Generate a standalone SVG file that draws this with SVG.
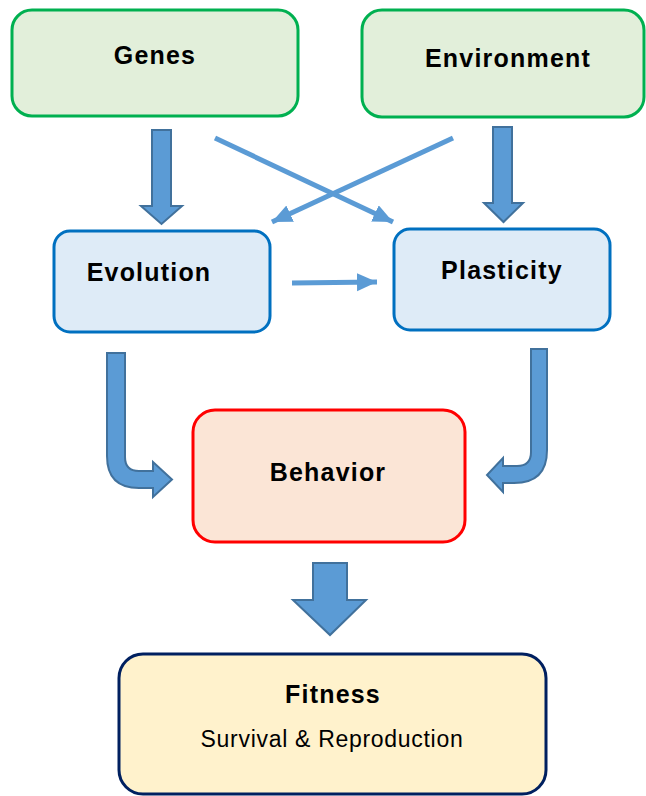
<svg xmlns="http://www.w3.org/2000/svg" width="646" height="796" viewBox="0 0 646 796">
<style>
.box{stroke-width:3}
.g{fill:#e2efda;stroke:#00b050}
.b{fill:#deebf7;stroke:#0070c0}
.r{fill:#fbe5d6;stroke:#ff0000}
.y{fill:#fff2cc;stroke:#002060}
.t{font-family:"Liberation Sans",Arial,sans-serif;font-weight:bold;font-size:25px;letter-spacing:1.2px;fill:#000;text-anchor:middle}
.s{font-family:"Liberation Sans",Arial,sans-serif;font-size:23px;letter-spacing:0.7px;fill:#000;text-anchor:middle}
.blk{fill:#5b9bd5;stroke:#41719c;stroke-width:2;stroke-linejoin:miter}
.thin{stroke:#5b9bd5;stroke-width:5;fill:none}
</style>
<defs>
<marker id="ah" markerUnits="userSpaceOnUse" markerWidth="22" markerHeight="20" refX="20" refY="9" orient="auto">
<path d="M0,0 L20,9 L0,18 Z" fill="#5b9bd5"/>
</marker>
</defs>
<g id="connectors">
<path class="blk" d="M152,130 H171 V206 H182 L161.5,224 L141,206 H152 Z"/>
<path class="blk" d="M493,127 H512 V203 H523 L503.5,222 L484,203 H493 Z"/>
<line class="thin" x1="215" y1="138" x2="393" y2="222" marker-end="url(#ah)"/>
<line class="thin" x1="453" y1="138" x2="272" y2="222" marker-end="url(#ah)"/>
<line class="thin" x1="292" y1="283" x2="377" y2="282" marker-end="url(#ah)"/>
<path class="blk" d="M107,353 H125 V457 Q125,471 139,471 H153 V462 L172,479.5 L153,497 V488 H139 Q107,488 107,456 Z"/>
<path class="blk" d="M531,349 H547 V450 Q547,483 514,483 H503 V492 L487,475 L503,458 V466 H517 Q531,466 531,452 Z"/>
<path class="blk" d="M313,563 H347 V600 H366 L330,635 L293,600 H313 Z"/>
</g>
<g id="genes">
<rect class="box g" x="12" y="10" width="286" height="106" rx="20"/>
<text class="t" x="155" y="64">Genes</text>
</g>
<g id="environment">
<rect class="box g" x="362" y="10" width="282" height="107" rx="20"/>
<text class="t" x="508" y="67">Environment</text>
</g>
<g id="evolution">
<rect class="box b" x="54" y="231" width="216" height="101" rx="16"/>
<text class="t" x="149" y="281">Evolution</text>
</g>
<g id="plasticity">
<rect class="box b" x="394" y="229" width="216" height="101" rx="16"/>
<text class="t" x="502" y="279">Plasticity</text>
</g>
<g id="behavior">
<rect class="box r" x="193" y="410" width="272" height="132" rx="22"/>
<text class="t" x="328" y="481">Behavior</text>
</g>
<g id="fitness">
<rect class="box y" x="119" y="654" width="427" height="140" rx="24"/>
<text class="t" x="333" y="703">Fitness</text>
<text class="s" x="332" y="747">Survival &amp; Reproduction</text>
</g>
</svg>
